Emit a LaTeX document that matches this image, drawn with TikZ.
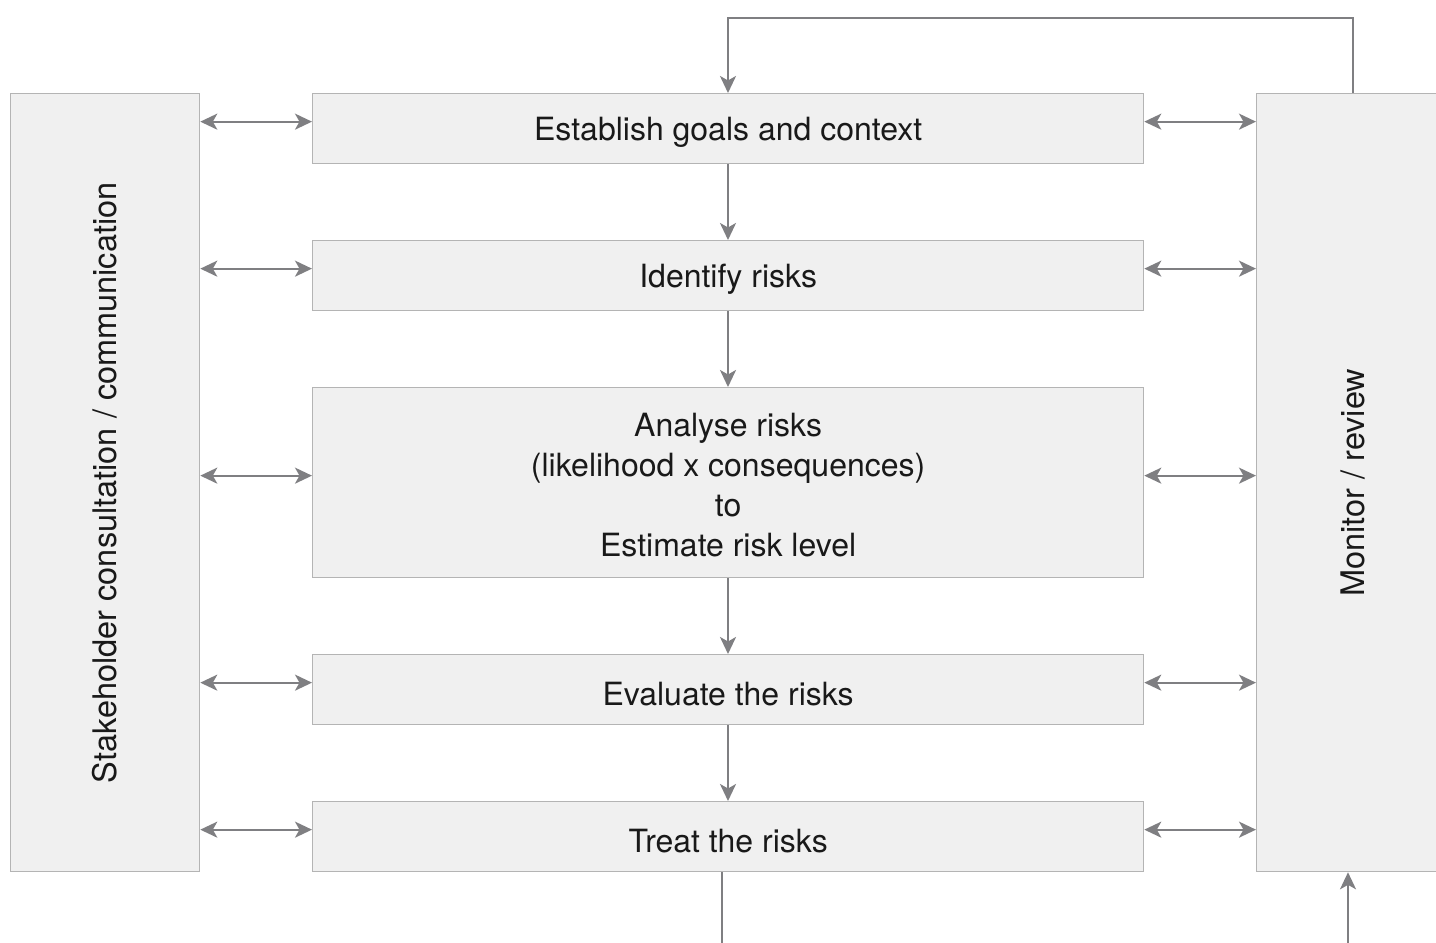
\documentclass[tikz,border=0pt]{standalone}
\usepackage{fontspec}
\setmainfont{TeX Gyre Heros}
\usetikzlibrary{arrows.meta,calc}
\definecolor{boxfill}{HTML}{F0F0F0}
\definecolor{boxline}{HTML}{B4B4B4}
\definecolor{arr}{HTML}{7F7F82}
\begin{document}
\begin{tikzpicture}[x=1pt,y=-1pt,
  stepbox/.style={draw=boxline,fill=boxfill,line width=1.3pt,minimum width=831pt,inner sep=0pt,anchor=north west},
  steptext/.style={inner sep=0pt,font=\fontsize{32}{40}\selectfont,align=center,text=black!90},
  sidebox/.style={draw=boxline,fill=boxfill,line width=1.3pt,minimum height=778pt,inner sep=0pt,anchor=north west},
  sidetext/.style={rotate=90,font=\fontsize{32.5}{38}\selectfont,text=black!90},
  conn/.style={draw=arr,line width=2.2pt,-{Stealth[length=17pt,width=16pt,inset=4.5pt]}},
  dconn/.style={draw=arr,line width=2.2pt,{Stealth[length=17pt,width=16pt,inset=4.5pt]}-{Stealth[length=17pt,width=16pt,inset=4.5pt]}},
  plain/.style={draw=arr,line width=2.2pt}]
\useasboundingbox (0,0) rectangle (1436,943);
\path[fill=white] (0,0) rectangle (1436,943);
\node[sidebox,minimum width=189pt] (L) at (10,93) {};
\node[sidetext] (Lt) at (L.center) {Stakeholder consultation / communication};
\node[sidebox,minimum width=192pt] (R) at (1256,93) {};
\node[sidetext] (Rt) at (R.center) {Monitor / review};
\node[stepbox,minimum height=70pt] (b1) at (312,93) {};
\node[stepbox,minimum height=70pt] (b2) at (312,240) {};
\node[stepbox,minimum height=190pt] (b3) at (312,387) {};
\node[stepbox,minimum height=70pt] (b4) at (312,654) {};
\node[stepbox,minimum height=70pt] (b5) at (312,801) {};
\node[steptext] (t1) at ($(b1.center)+(0,4)$) {Establish goals and context};
\node[steptext] (t2) at ($(b2.center)+(0,4)$) {Identify risks};
\node[steptext] (t3) at ($(b3.center)+(0,2)$) {Analyse risks\\(likelihood x consequences)\\to\\Estimate risk level};
\node[steptext] (t4) at ($(b4.center)+(0,4)$) {Evaluate the risks};
\node[steptext] (t5) at ($(b5.center)+(0,4)$) {Treat the risks};
\foreach \b in {b1,b2,b3,b4,b5}{
  \draw[dconn] ($(L.east |- \b.west)+(0,-7)$) -- ($(\b.west)+(0,-7)$);
  \draw[dconn] ($(\b.east)+(0,-7)$) -- ($(R.west |- \b.east)+(0,-7)$);
}
\draw[conn] (b1.south -| 728,0) -- (b2.north -| 728,0);
\draw[conn] (b2.south -| 728,0) -- (b3.north -| 728,0);
\draw[conn] (b3.south -| 728,0) -- (b4.north -| 728,0);
\draw[conn] (b4.south -| 728,0) -- (b5.north -| 728,0);
\coordinate (tr) at (1353,18);
\coordinate (tl) at (728,18);
\draw[conn] (R.north -| tr) -- (tr) -- (tl) -- (b1.north -| tl);
\coordinate (bout) at (722,945);
\draw[plain] (b5.south -| bout) -- (bout);
\coordinate (bin) at (1348,943);
\draw[conn] (bin) -- (R.south -| bin);
\end{tikzpicture}
\end{document}
